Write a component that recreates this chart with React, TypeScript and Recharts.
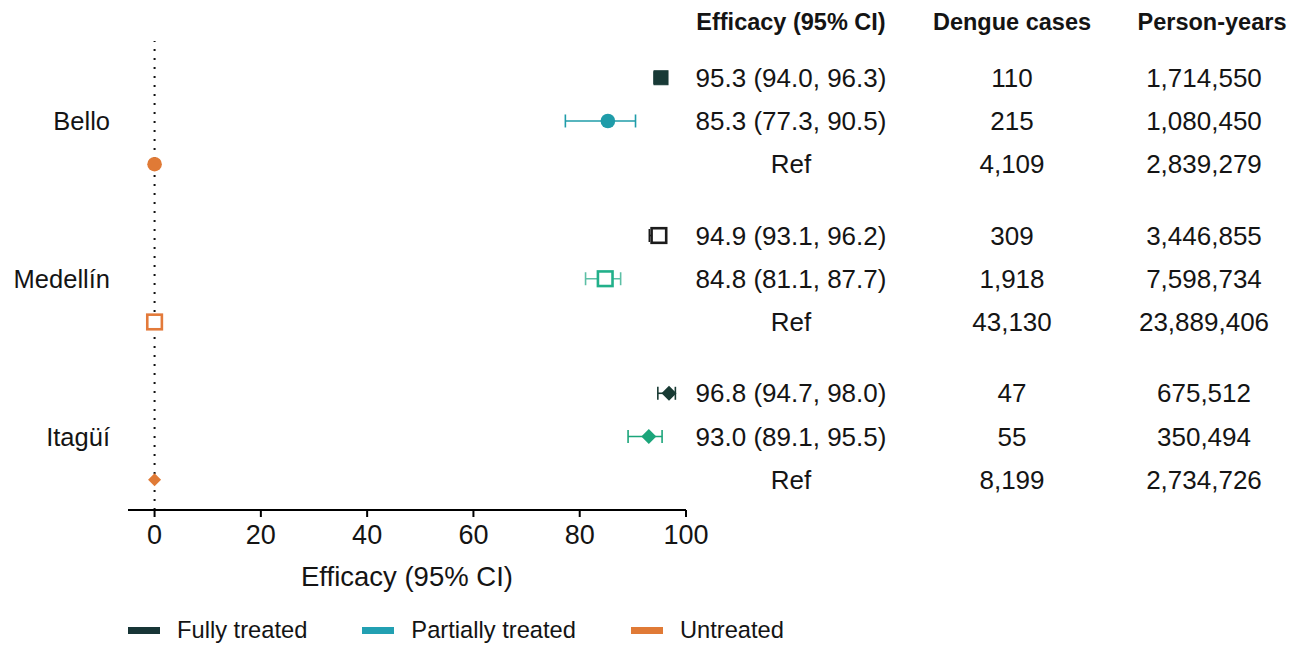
import React from 'react';
import { ScatterChart, Scatter, XAxis, YAxis, ErrorBar, ReferenceLine, Legend } from 'recharts';

// ---------- data ----------
const cities = ['Bello', 'Medellín', 'Itagüí'];
const groups = ['Fully treated', 'Partially treated', 'Untreated'];
const rowPositions = [1, 2, 3, 4.65, 5.65, 6.65, 8.3, 9.3, 10.3];
const cityTickPositions = [2, 5.65, 9.3];
const efficacyEst = [95.3, 85.3, 0, 94.9, 84.8, 0, 96.8, 93.0, 0];
const efficacyLow = [94.0, 77.3, 0, 93.1, 81.1, 0, 94.7, 89.1, 0];
const efficacyHigh = [96.3, 90.5, 0, 96.2, 87.7, 0, 98.0, 95.5, 0];
const efficacyText = [
  '95.3 (94.0, 96.3)', '85.3 (77.3, 90.5)', 'Ref',
  '94.9 (93.1, 96.2)', '84.8 (81.1, 87.7)', 'Ref',
  '96.8 (94.7, 98.0)', '93.0 (89.1, 95.5)', 'Ref',
];
const dengueCases = ['110', '215', '4,109', '309', '1,918', '43,130', '47', '55', '8,199'];
const personYears = [
  '1,714,550', '1,080,450', '2,839,279',
  '3,446,855', '7,598,734', '23,889,406',
  '675,512', '350,494', '2,734,726',
];
const tableHeaders = ['Efficacy (95% CI)', 'Dengue cases', 'Person-years'];
const xTicks = [0, 20, 40, 60, 80, 100];

// ---------- styles ----------
const FONT = '"Liberation Sans", Arial, Helvetica, sans-serif';
const FS_HEAD = 23.5;
const FS_VAL = 26;
const FS_CITY = 25.5;
const FS_TICK = 27;
const FS_TITLE = 27.5;
const FS_LEG = 23.7;
const TEXT = '#141414';
const groupColors = ['#173536', '#22a0b2', '#e07a36'];
const rowColors = ['#183a36', '#1f9ca9', '#e07a36', '#1c1c1c', '#22b08a', '#e37a3a', '#183a33', '#1ba57a', '#e07a36'];
const errColors = ['#183a36', '#1f9ca9', '#e07a36', '#1c1c1c', '#5cbfa5', '#e37a3a', '#183a33', '#1ba57a', '#e07a36'];
const rowShapes = ['square', 'circle', 'circle', 'open', 'open', 'open', 'diamond', 'diamond', 'diamond'];
const COL1 = 791;
const COL2 = 1012;
const COL3H = 1212;
const COL3 = 1204;

const rows = rowPositions.map((y, i) => ({
  x: efficacyEst[i],
  y,
  err: [efficacyEst[i] - efficacyLow[i], efficacyHigh[i] - efficacyEst[i]],
  eff: efficacyText[i],
  cases: dengueCases[i],
  py: personYears[i],
  first: i === 0,
  hasCI: efficacyText[i] !== 'Ref',
}));

const makeShape = (kind: string, color: string, small: boolean) => (props: any) => {
  const { cx, cy } = props;
  if (cx == null || cy == null) return null;
  if (kind === 'circle') {
    return <circle cx={cx} cy={cy} r={7.3} fill={color} />;
  }
  if (kind === 'square') {
    return <rect x={cx - 7} y={cy - 7} width={14} height={14} fill={color} stroke={color} strokeWidth={1} />;
  }
  if (kind === 'open') {
    return <rect x={cx - 7.3} y={cy - 7.3} width={14.6} height={14.6} fill="#fff" stroke={color} strokeWidth={2.6} />;
  }
  const h = small ? 6.5 : 7.5;
  return <polygon points={`${cx},${cy - h} ${cx + h},${cy} ${cx},${cy + h} ${cx - h},${cy}`} fill={color} />;
};

const TableRow = (props: any) => {
  const { cy, payload } = props;
  if (cy == null) return null;
  const common = { fontFamily: FONT, fill: TEXT, textAnchor: 'middle' as const };
  return (
    <g>
      {payload.first && (
        <g fontSize={FS_HEAD}>
          <text {...common} x={COL1} y={cy - 56} dy="0.35em" fontWeight="bold">{tableHeaders[0]}</text>
          <text {...common} x={COL2} y={cy - 56} dy="0.35em" fontWeight="bold">{tableHeaders[1]}</text>
          <text {...common} x={COL3H} y={cy - 56} dy="0.35em" fontWeight="bold">{tableHeaders[2]}</text>
        </g>
      )}
      <g fontSize={FS_VAL}>
        <text {...common} x={COL1} y={cy} dy="0.35em">{payload.eff}</text>
        <text {...common} x={COL2} y={cy} dy="0.35em">{payload.cases}</text>
        <text {...common} x={COL3} y={cy} dy="0.35em">{payload.py}</text>
      </g>
    </g>
  );
};

const renderLegend = () => (
  <div style={{ display: 'flex', alignItems: 'center', height: 30, fontFamily: FONT, fontSize: FS_LEG, color: TEXT }}>
    {groups.map((g, i) => (
      <div key={g} style={{ display: 'flex', alignItems: 'center', marginRight: 55 }}>
        <span style={{ display: 'inline-block', width: 32, height: 7, background: groupColors[i], marginRight: 17 }} />
        <span style={{ whiteSpace: 'nowrap', lineHeight: '30px' }}>{g}</span>
      </div>
    ))}
  </div>
);

export default function App() {
  return (
    <div style={{ position: 'absolute', left: 0, top: 0, width: 1303, height: 645, background: '#fff' }}>
      <ScatterChart width={1303} height={645} margin={{ top: 41, right: 617, bottom: 0, left: 0 }}>
        <XAxis
          type="number"
          dataKey="x"
          domain={[-5, 100]}
          ticks={xTicks}
          height={105}
          tickSize={7}
          tickMargin={8}
          axisLine={{ stroke: '#000', strokeWidth: 2 }}
          tickLine={{ stroke: '#000', strokeWidth: 2 }}
          tick={{ fontFamily: FONT, fontSize: FS_TICK, fill: TEXT }}
          label={{ value: 'Efficacy (95% CI)', position: 'insideTop', offset: 56, fontFamily: FONT, fontSize: FS_TITLE, fill: TEXT }}
        />
        <YAxis
          type="number"
          dataKey="y"
          domain={[0.15, 11]}
          reversed
          width={128}
          ticks={cityTickPositions}
          tickFormatter={(v: number) => cities[cityTickPositions.indexOf(v)] ?? ''}
          axisLine={false}
          tickLine={false}
          tickSize={6}
          tickMargin={12}
          tick={{ fontFamily: FONT, fontSize: FS_CITY, fill: TEXT }}
        />
        <ReferenceLine x={0} stroke="#111" strokeWidth={2} strokeDasharray="2 7" />
        <Legend verticalAlign="bottom" content={renderLegend} wrapperStyle={{ left: 128, bottom: 0, width: 900, height: 30 }} />
        {rows.map((r, i) => (
          <Scatter
            key={i}
            name={`row${i}`}
            data={[r]}
            isAnimationActive={false}
            legendType="none"
            shape={makeShape(rowShapes[i], rowColors[i], i === 8)}
          >
            {r.hasCI && (
              <ErrorBar dataKey="err" direction="x" width={6.5} stroke={errColors[i]} strokeWidth={1.6} />
            )}
          </Scatter>
        ))}
        <Scatter
          name="table"
          data={rows.map((r) => ({ ...r, x: 0 }))}
          isAnimationActive={false}
          legendType="none"
          shape={TableRow}
        />
      </ScatterChart>
    </div>
  );
}
